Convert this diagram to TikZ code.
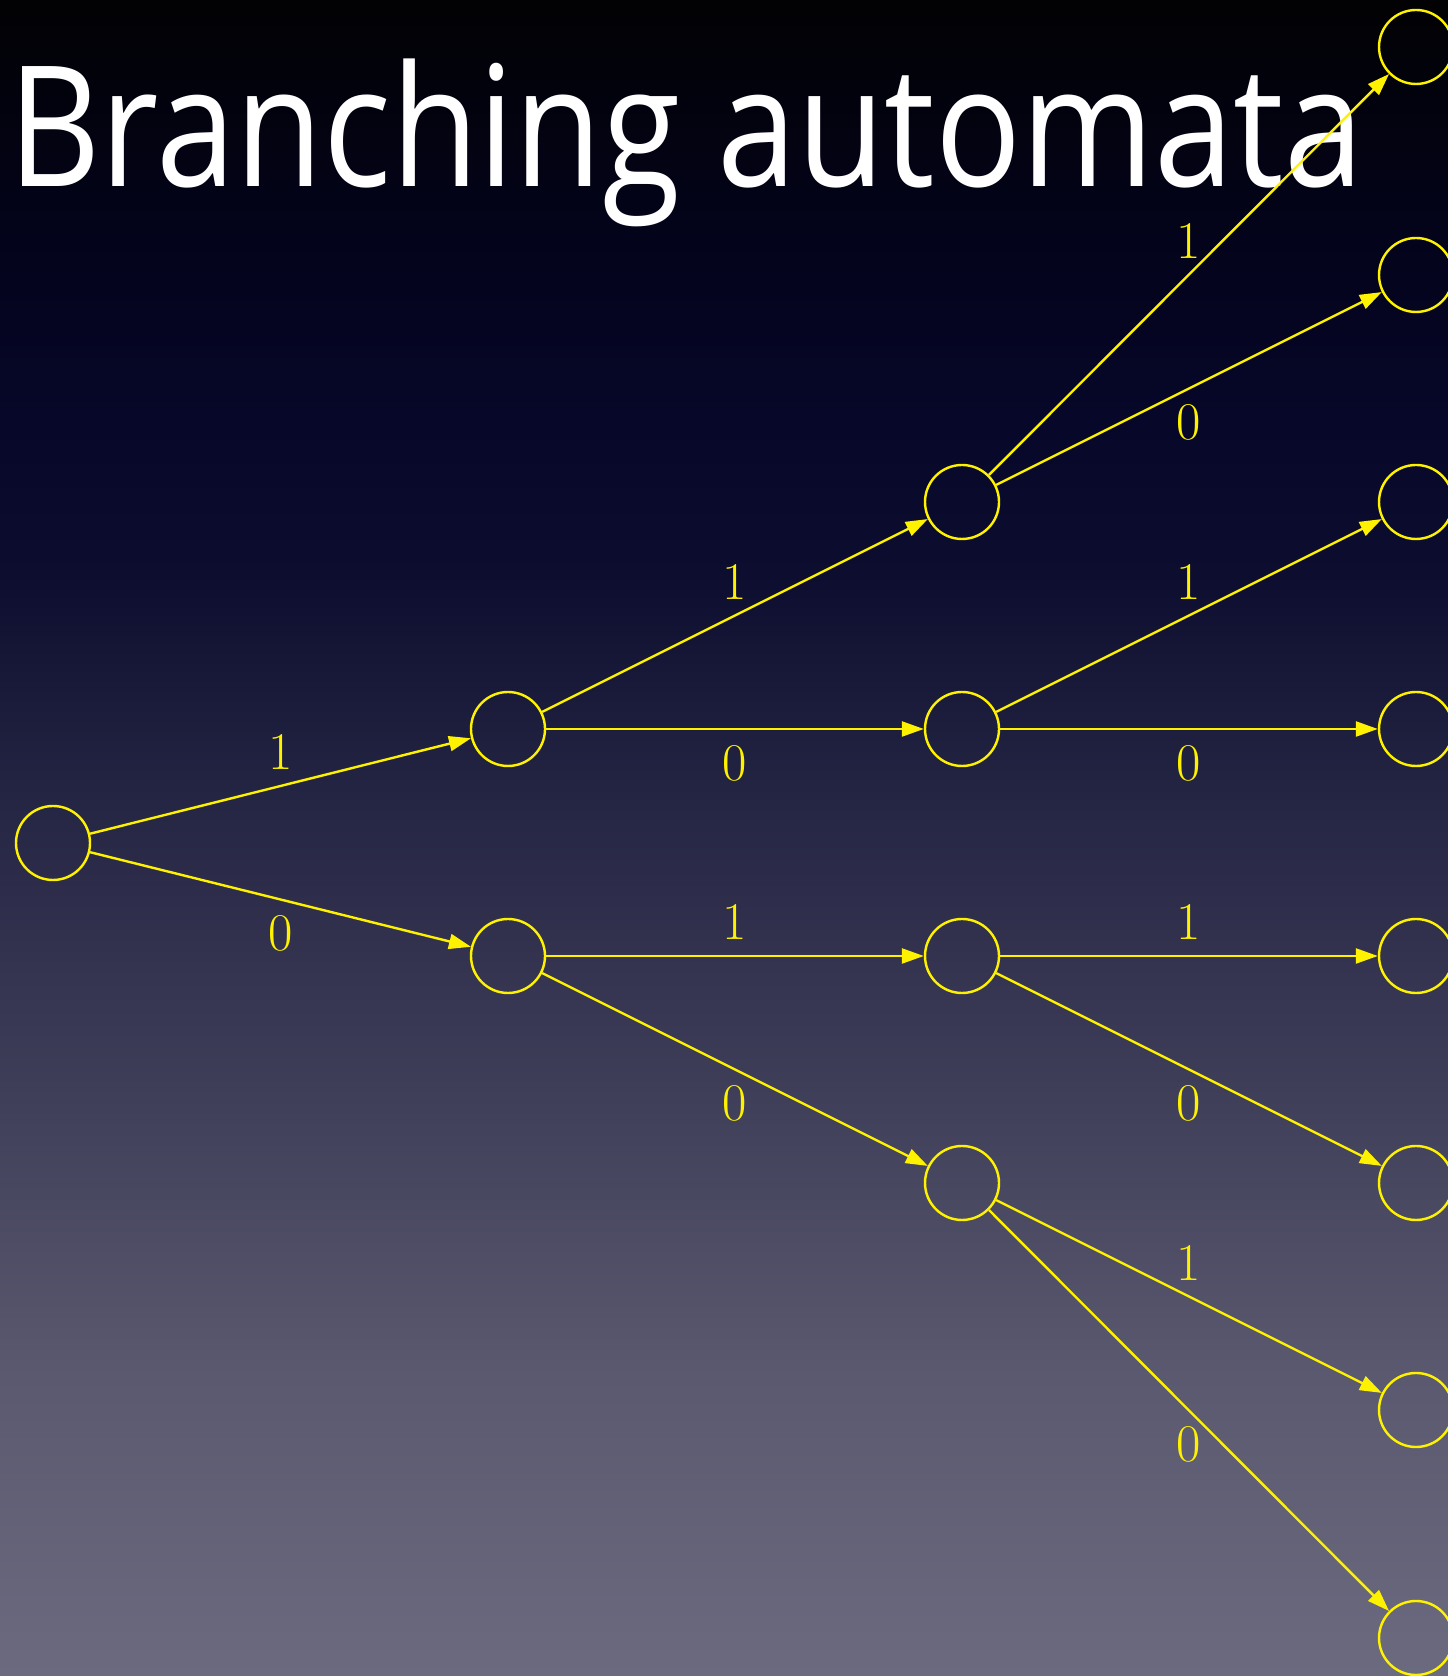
\documentclass[tikz,border=0pt]{standalone}
\usepackage{fontspec}
\usetikzlibrary{arrows.meta}
\newfontfamily\titlefont{Open Sans}
\definecolor{bgA}{HTML}{6B6A7F}
\definecolor{bgB}{HTML}{5A596F}
\definecolor{bgC}{HTML}{3E3D58}
\definecolor{bgD}{HTML}{272746}
\definecolor{bgE}{HTML}{181838}
\definecolor{bgF}{HTML}{0D0D30}
\definecolor{bgG}{HTML}{07072A}
\definecolor{bgH}{HTML}{03031A}
\definecolor{bgI}{HTML}{020204}
\pgfdeclareverticalshading{slidebg}{100bp}{color(0bp)=(bgA); color(25bp)=(bgA);
  color(33.95bp)=(bgB); color(42.9bp)=(bgC); color(50.36bp)=(bgD);
  color(54.83bp)=(bgE); color(57.82bp)=(bgF); color(62.29bp)=(bgG);
  color(68.26bp)=(bgH); color(75bp)=(bgI); color(100bp)=(bgI)}
\begin{document}
\begin{tikzpicture}[
    x=1pt, y=1pt,
    state/.style={circle, draw=yellow, line width=2.4pt, minimum size=74pt, inner sep=0pt},
    trans/.style={draw=yellow, line width=2.4pt, -{Triangle[length=22pt,width=15pt]}},
    lbl/.style={midway, text=yellow, font=\fontsize{53}{53}\selectfont, inner sep=2pt}
]
% Hintergrund
\useasboundingbox (0,0) rectangle (1448,1676);
\shade[shading=slidebg] (0,0) rectangle (1448,1676);

% Titel
\node[anchor=base west, inner sep=0pt, text=white, xscale=0.85,
      font=\titlefont\fontsize{168}{168}\selectfont] (title) at (8,1489) {Branching automata};

% Zustaende
\node[state] at (53,833) (q) {};
\node[state] at (508,947) (q1) {};
\node[state] at (508,720) (q0) {};
\node[state] at (962,1174) (q11) {};
\node[state] at (962,947) (q10) {};
\node[state] at (962,720) (q01) {};
\node[state] at (962,493) (q00) {};
\node[state] at (1416,1629) (q111) {};
\node[state] at (1416,1401) (q110) {};
\node[state] at (1416,1174) (q101) {};
\node[state] at (1416,947) (q100) {};
\node[state] at (1416,720) (q011) {};
\node[state] at (1416,493) (q010) {};
\node[state] at (1416,266) (q001) {};
\node[state] at (1416,38) (q000) {};

% Uebergaenge
\draw[trans] (q) -- node[lbl, above=13pt] {1} (q1);
\draw[trans] (q) -- node[lbl, below=13pt] {0} (q0);
\draw[trans] (q1) -- node[lbl, above=13pt] {1} (q11);
\draw[trans] (q1) -- node[lbl, below=13pt] {0} (q10);
\draw[trans] (q0) -- node[lbl, above=13pt] {1} (q01);
\draw[trans] (q0) -- node[lbl, below=13pt] {0} (q00);
\draw[trans] (q11) -- node[lbl, above=13pt] {1} (q111);
\draw[trans] (q11) -- node[lbl, below=13pt] {0} (q110);
\draw[trans] (q10) -- node[lbl, above=13pt] {1} (q101);
\draw[trans] (q10) -- node[lbl, below=13pt] {0} (q100);
\draw[trans] (q01) -- node[lbl, above=13pt] {1} (q011);
\draw[trans] (q01) -- node[lbl, below=13pt] {0} (q010);
\draw[trans] (q00) -- node[lbl, above=13pt] {1} (q001);
\draw[trans] (q00) -- node[lbl, below=13pt] {0} (q000);
\end{tikzpicture}
\end{document}
